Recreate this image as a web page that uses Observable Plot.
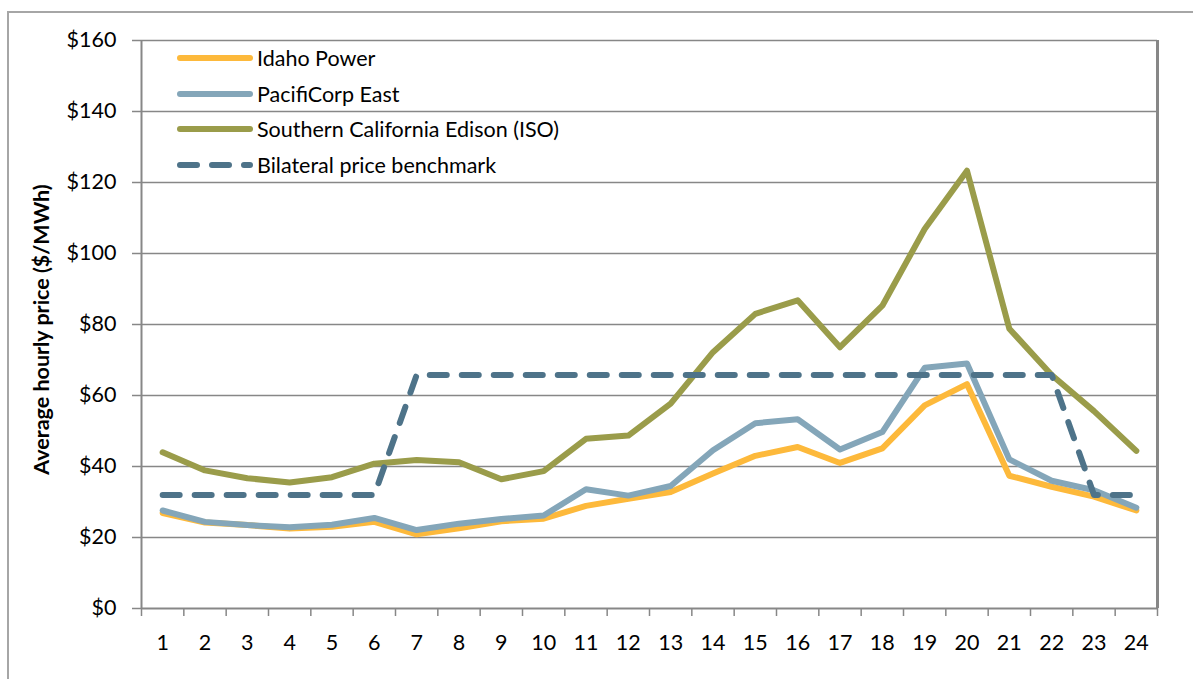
<!DOCTYPE html>
<html><head><meta charset="utf-8">
<script src="https://cdn.jsdelivr.net/npm/d3@7"></script>
<script src="https://cdn.jsdelivr.net/npm/@observablehq/plot@0.6"></script>
<style>
body{margin:0;background:#fff;font-family:Lato,sans-serif}
#wrap{position:relative;width:1193px;height:679px;overflow:hidden;background:#fff}
#border{position:absolute;left:7px;top:11px;width:1400px;height:900px;border-left:2px solid #a6a6a6;border-top:2px solid #a6a6a6;pointer-events:none}
#legend{position:absolute;left:176px;top:40px;font-family:Lato,sans-serif;font-size:21.5px;color:#000}
.row{display:flex;align-items:center;height:35.7px}
.row svg{display:block}
.row span{margin-left:3px;white-space:nowrap}
</style></head>
<body><div id="wrap"><div id="chart"></div><div id="legend"></div><div id="border"></div></div>
<script>
const hours = [1,2,3,4,5,6,7,8,9,10,11,12,13,14,15,16,17,18,19,20,21,22,23,24];
const idaho = [26.9,24.2,23.5,22.5,23.0,24.4,20.9,22.6,24.6,25.3,28.9,30.9,32.8,38.0,43.0,45.5,41.0,45.1,57.2,63.2,37.4,34.3,31.5,27.6];
const pacificorp = [27.6,24.4,23.5,22.9,23.6,25.5,22.1,23.9,25.2,26.2,33.6,31.8,34.5,44.6,52.2,53.3,44.8,49.7,67.8,69.0,42.0,36.0,33.3,28.4];
const sce = [44.0,38.9,36.7,35.5,37.0,40.8,41.8,41.2,36.4,38.7,47.8,48.7,57.7,72.2,83.0,86.8,73.6,85.3,106.9,123.3,78.8,65.8,55.6,44.4];
const bilateral = [32,32,32,32,32,32,65.8,65.8,65.8,65.8,65.8,65.8,65.8,65.8,65.8,65.8,65.8,65.8,65.8,65.8,65.8,65.8,32,32];
const yTicks = [0,20,40,60,80,100,120,140,160];
const seriesNames = ["Idaho Power","PacifiCorp East","Southern California Edison (ISO)","Bilateral price benchmark"];
const seriesColors = ["#FDB93B","#84A6B9","#9A9C4A","#4E7389"];
const yLabel = "Average hourly price ($/MWh)";

const seriesValues = [idaho, pacificorp, sce, bilateral];
const dash = "17,15";
const gridColor = "#878787";
const bounds = d3.range(hours[0]-0.5, hours[hours.length-1]+1, 1);

const lineMarks = seriesValues.map((vals,k) => Plot.line(hours, {
  x: d => d, y: (d,i) => vals[i],
  stroke: seriesColors[k], strokeWidth: 6,
  strokeLinecap: "round", strokeLinejoin: "round",
  strokeDasharray: k === 3 ? dash : null
}));

const chart = Plot.plot({
  width: 1193, height: 679,
  marginLeft: 141, marginRight: 36, marginTop: 40, marginBottom: 71,
  style: {fontFamily: "Lato, sans-serif", fontSize: "21px", color: "#000", background: "transparent", overflow: "visible"},
  x: {type: "linear", domain: [0.5, 24.5], label: null},
  y: {domain: [0, 160], label: null},
  marks: [
    Plot.gridY(yTicks.slice(1), {stroke: gridColor, strokeOpacity: 1, strokeWidth: 1.5}),
    Plot.axisY(yTicks, {tickFormat: d => "$" + d, tickSize: 9, tickPadding: 16, stroke: gridColor, strokeWidth: 1.5, fill: "#000", fontSize: 21.5, label: null}),
    Plot.axisX(bounds, {tickSize: 8, tickFormat: () => "", stroke: gridColor, strokeWidth: 1.5, label: null}),
    Plot.axisX(hours, {tickSize: 0, tickPadding: 26, fill: "#000", fontSize: 21.5, label: null}),
    Plot.ruleX([0.5], {stroke: gridColor, strokeWidth: 2}),
    Plot.ruleX([24.5], {stroke: gridColor, strokeWidth: 3}),
    Plot.ruleY([0], {stroke: gridColor, strokeWidth: 2}),
    ...lineMarks,
    Plot.text([yLabel], {frameAnchor: "left", textAnchor: "middle", rotate: -90, dx: -99, dy: 5, fontWeight: "bold", fontSize: 21.5, fill: "#000"})
  ]
});
document.getElementById("chart").appendChild(chart);

const legend = document.getElementById("legend");
seriesNames.forEach((name,k) => {
  const row = document.createElement("div");
  row.className = "row";
  const dashAttr = k === 3 ? `stroke-dasharray="${dash}"` : "";
  row.innerHTML = `<svg width="78" height="12"><line x1="4" y1="6" x2="74" y2="6" stroke="${seriesColors[k]}" stroke-width="6" stroke-linecap="round" ${dashAttr}/></svg><span>${name}</span>`;
  legend.appendChild(row);
});
</script></body></html>
